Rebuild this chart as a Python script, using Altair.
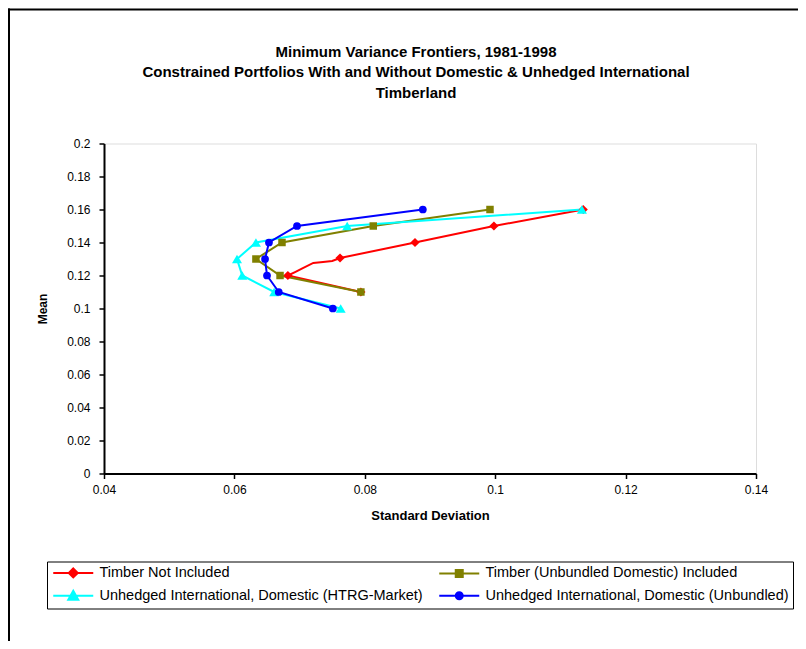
import altair as alt
import pandas as pd

# ---- data ----
series_names = [
    "Timber Not Included",
    "Timber (Unbundled Domestic) Included",
    "Unhedged International, Domestic (HTRG-Market)",
    "Unhedged International, Domestic (Unbundled)",
]
series_colors = ["#FF0000", "#808000", "#00FFFF", "#0000FF"]
series_shapes = ["diamond", "square", "triangle-up", "circle"]

red_sd = [0.1135, 0.0998, 0.0877, 0.0762, 0.0750, 0.0736, 0.0721, 0.0705, 0.0693, 0.0682, 0.0794]
red_mean = [0.16, 0.15, 0.14, 0.1306, 0.1288, 0.1282, 0.1276, 0.1245, 0.1221, 0.12, 0.11]
red_marker = [1, 1, 1, 1, 0, 0, 0, 0, 0, 1, 1]

olive_sd = [0.0992, 0.0813, 0.0673, 0.0633, 0.0670, 0.0794]
olive_mean = [0.16, 0.15, 0.14, 0.13, 0.12, 0.11]

cyan_sd = [0.1133, 0.0773, 0.0633, 0.0604, 0.0612, 0.0661, 0.0763]
cyan_mean = [0.16, 0.15, 0.14, 0.13, 0.12, 0.11, 0.10]

blue_sd = [0.0889, 0.0696, 0.0653, 0.0647, 0.0650, 0.0668, 0.0751]
blue_mean = [0.16, 0.15, 0.14, 0.13, 0.12, 0.11, 0.10]

x_ticks = [0.04, 0.06, 0.08, 0.10, 0.12, 0.14]
y_ticks = [0, 0.02, 0.04, 0.06, 0.08, 0.10, 0.12, 0.14, 0.16, 0.18, 0.20]

title_lines = [
    "Minimum Variance Frontiers, 1981-1998",
    "Constrained Portfolios With and Without Domestic & Unhedged International",
    "Timberland",
]

# ---- build table ----
rows = []
def add(name, sds, means, markers=None):
    for i, (s, m) in enumerate(zip(sds, means)):
        rows.append({"series": name, "sd": s, "mean": m, "idx": i,
                     "marker": 1 if markers is None else markers[i]})

add(series_names[0], red_sd, red_mean, red_marker)
add(series_names[1], olive_sd, olive_mean)
add(series_names[2], cyan_sd, cyan_mean)
add(series_names[3], blue_sd, blue_mean)
df = pd.DataFrame(rows)

FONT = "Liberation Sans"

xenc = alt.X("sd:Q", scale=alt.Scale(domain=[0.04, 0.14], nice=False, zero=False),
             axis=alt.Axis(values=x_ticks, format="~g", title="Standard Deviation",
                           grid=False, tickSize=5, tickWidth=1.5, tickColor="black",
                           domainColor="black", domainWidth=2, labelFontSize=12,
                           labelColor="black", labelPadding=6, labelFlush=False,
                           titleFontSize=13, titleFontWeight="bold", titleColor="black",
                           titlePadding=14, labelFont=FONT, titleFont=FONT))
yenc = alt.Y("mean:Q", scale=alt.Scale(domain=[0, 0.2], nice=False),
             axis=alt.Axis(values=y_ticks, format="~g", title="Mean",
                           grid=False, tickSize=5, tickWidth=1.5, tickColor="black",
                           domainColor="black", domainWidth=2, labelFontSize=12,
                           labelColor="black", labelPadding=9, labelFlush=False,
                           titleFontSize=12, titleFontWeight="bold", titleColor="black",
                           titlePadding=17, labelFont=FONT, titleFont=FONT))

color_scale = alt.Scale(domain=series_names, range=series_colors)

# legend symbols: a short line with the series marker on it
legend_paths = [
    "M-1,0H7M3,-0.9L3.9,0L3,0.9L2.1,0Z",
    "M-1,0H7M2.3,-0.7H3.7V0.7H2.3Z",
    "M-1,0H7M3,-1L4,0.8H2Z",
    "M-1,0H7M2.3,0A0.7,0.7,0,1,1,3.7,0A0.7,0.7,0,1,1,2.3,0Z",
]
names_js = "[" + ",".join("'" + n + "'" for n in series_names) + "]"
paths_js = "[" + ",".join("'" + p + "'" for p in legend_paths) + "]"
shape_sig = f"{paths_js}[indexof({names_js}, datum.value)]"

leg = alt.Legend(
    title=None, orient="none", legendX=-57, legendY=418, columns=2,
    direction="horizontal", columnPadding=12, rowPadding=5, padding=4,
    labelFontSize=14.5, labelFont=FONT, labelColor="black", labelLimit=0,
    labelOffset=34, symbolSize=100, symbolStrokeWidth=2, strokeColor="black",
    symbolType=alt.ExprRef(expr=shape_sig),
    symbolFillColor=alt.ExprRef(expr="scale('color', datum.value)"),
    symbolOpacity=1,
)

lines = alt.Chart(df).mark_line(strokeWidth=2).encode(
    x=xenc, y=yenc,
    color=alt.Color("series:N", scale=color_scale, legend=leg),
    order="idx:Q",
)

marker_sizes = [85, 56, 100, 60]
point_layers = []
for name, shp, sz, col in zip(series_names, series_shapes, marker_sizes, series_colors):
    point_layers.append(
        alt.Chart(df).transform_filter(
            (alt.datum.marker == 1) & (alt.datum.series == name)
        ).mark_point(filled=True, opacity=1, shape=shp, size=sz, color=col).encode(
            x=xenc, y=yenc,
        )
    )

one = pd.DataFrame({"a": [0]})
border_left = alt.Chart(one).mark_rule(color="black", strokeWidth=2).encode(
    x=alt.value(-95), y=alt.value(-135), y2=alt.value(600))
border_top = alt.Chart(one).mark_rule(color="black", strokeWidth=2).encode(
    y=alt.value(-134), x=alt.value(-96), x2=alt.value(800))

chart = alt.layer(lines, *point_layers, border_left, border_top).properties(
    width=652, height=330,
    autosize=alt.AutoSizeParams(type="none"),
    padding={"left": 96, "top": 135.5, "right": 42, "bottom": 167.5},
    title=alt.Title(text=title_lines, font=FONT, fontSize=15, fontWeight="bold",
                    color="black", anchor="middle", frame="group", offset=0, dy=93,
                    dx=-14, lineHeight=20.5),
).configure_view(
    stroke="#808080", strokeWidth=2
).configure_legend(
    strokeWidth=2
).configure(
    font=FONT, background="white"
)

chart.save("out.html", embed_options={"renderer": "svg", "actions": False})
